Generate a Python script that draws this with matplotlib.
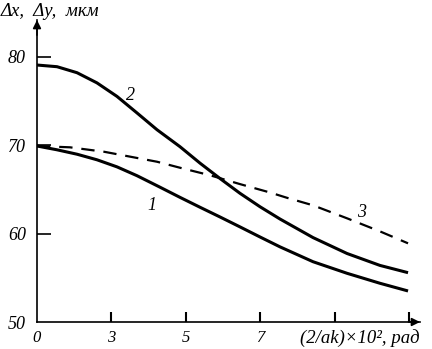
import matplotlib
matplotlib.use("Agg")
import matplotlib.pyplot as plt
import numpy as np

# x in tick-position units (ticks evenly spaced, labelled 0, 3, 5, 7)
x1 = [0.0, 0.269, 0.538, 0.806, 1.075, 1.344, 1.653, 1.922, 2.191, 2.460,
      2.728, 2.997, 3.266, 3.710, 4.167, 4.610, 4.987]
y1 = [69.91, 69.48, 68.98, 68.35, 67.55, 66.55, 65.25, 64.1, 62.98, 61.88,
      60.76, 59.62, 58.5, 56.82, 55.51, 54.38, 53.51]

x2 = [0.0, 0.269, 0.538, 0.806, 1.075, 1.344, 1.613, 1.922, 2.191, 2.460,
      2.728, 2.997, 3.266, 3.710, 4.167, 4.610, 4.987]
y2 = [79.07, 78.88, 78.2, 77.05, 75.52, 73.65, 71.75, 69.83, 67.97, 66.23,
      64.56, 63.04, 61.65, 59.55, 57.75, 56.4, 55.58]

x3 = [0.0, 0.444, 0.901, 1.613, 1.922, 2.325, 2.728, 3.132, 3.360, 3.710,
      4.167, 4.610, 4.987]
y3 = [69.91, 69.76, 69.26, 68.13, 67.45, 66.6, 65.6, 64.65, 64.05, 63.2,
      61.73, 60.25, 58.90]

xtick_pos = [0, 1, 2, 3, 4, 5]
xtick_labels = ["0", "3", "5", "7", "", ""]
ytick_vals = [50, 60, 70, 80]

plt.rcParams['font.family'] = ['Liberation Serif', 'DejaVu Serif']

fig = plt.figure(figsize=(4.32, 3.49), dpi=100)
W, H = 432, 349
x0, xend = 37, 420
yb, ytop = 322, 20
ax = fig.add_axes([x0 / W, (H - yb) / H, (xend - x0) / W, (yb - ytop) / H])
px_per_x = 74.4
px_per_y = 8.84
ax.set_xlim(0, (xend - x0) / px_per_x)
ax.set_ylim(50, 50 + (yb - ytop) / px_per_y)

ax.plot(x1, y1, color='black', lw=2.2, solid_capstyle='butt', solid_joinstyle='round')
ax.plot(x2, y2, color='black', lw=2.2, solid_capstyle='butt', solid_joinstyle='round')
ax.plot(x3, y3, color='black', lw=1.6, dashes=(6, 4))

for s in ['top', 'right']:
    ax.spines[s].set_visible(False)
for s in ['left', 'bottom']:
    ax.spines[s].set_linewidth(1.2)

ax.set_xticks(xtick_pos)
ax.set_xticklabels(xtick_labels, fontstyle='italic', fontsize=12)
ax.set_yticks(ytick_vals)
ax.set_yticklabels([str(v) for v in ytick_vals], fontstyle='italic', fontsize=13)
ax.tick_params(axis='x', direction='in', length=7, width=1.5, pad=6)
ax.tick_params(axis='y', direction='in', length=10, width=1.2, pad=8)
ax.xaxis.get_major_ticks()[0].tick1line.set_visible(False)
ax.yaxis.get_major_ticks()[0].tick1line.set_visible(False)

# arrows
ax.annotate('', xy=(1.0, 0), xytext=(0.97, 0), xycoords='axes fraction',
            arrowprops=dict(arrowstyle='-|>', color='black', lw=1.2,
                            mutation_scale=12, shrinkA=0, shrinkB=0))
ax.annotate('', xy=(0, 1.0), xytext=(0, 0.95), xycoords='axes fraction',
            arrowprops=dict(arrowstyle='-|>', color='black', lw=1.2,
                            mutation_scale=12, shrinkA=0, shrinkB=0))

fig.text(1 / W, 1 - 12 / H, 'Δx,  Δy,  мкм', fontstyle='italic', fontsize=13.5,
         ha='left', va='center')
fig.text(300 / W, 1 - 338 / H, '(2/ak)×10², рад', fontstyle='italic', fontsize=13.5,
         ha='left', va='center')

ax.text((130 - x0) / px_per_x, 50 + (yb - 95) / px_per_y, '2', fontstyle='italic',
        fontsize=13, ha='center', va='center')
ax.text((152 - x0) / px_per_x, 50 + (yb - 205) / px_per_y, '1', fontstyle='italic',
        fontsize=13, ha='center', va='center')
ax.text((362 - x0) / px_per_x, 50 + (yb - 212) / px_per_y, '3', fontstyle='italic',
        fontsize=13, ha='center', va='center')

fig.savefig('out.png', dpi=100)
